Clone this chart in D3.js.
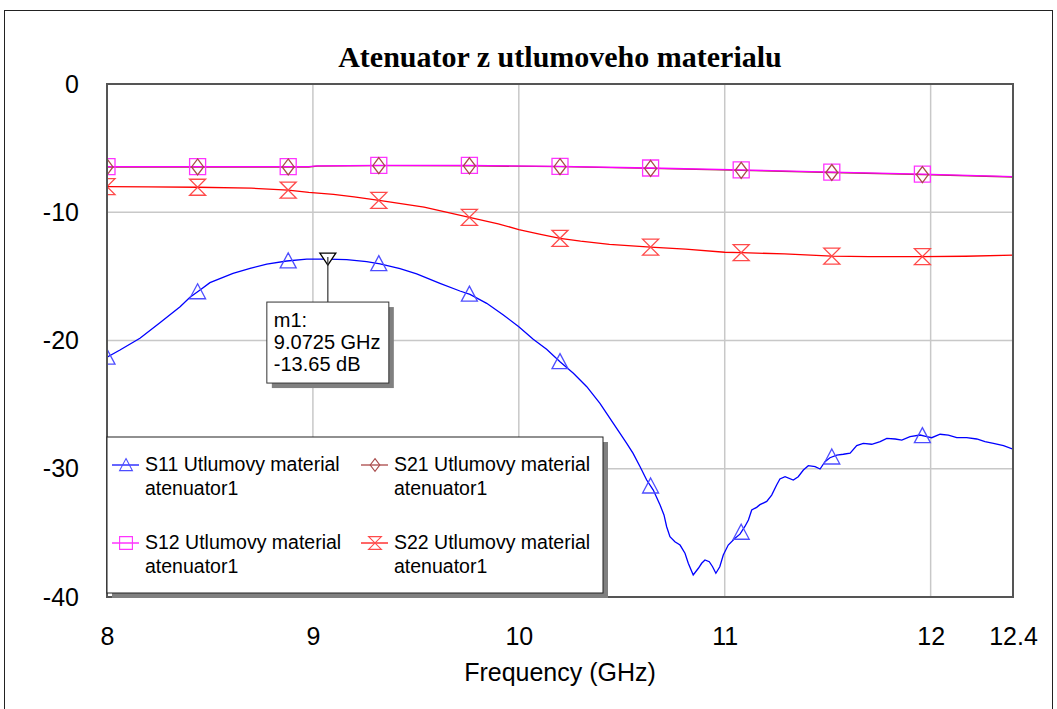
<!DOCTYPE html>
<html><head><meta charset="utf-8">
<script src="https://cdn.jsdelivr.net/npm/d3@7"></script>
<style>
html,body{margin:0;padding:0;background:#fff;}
svg{display:block;}
</style></head>
<body>
<script>
// ---------- DATA ----------
const title = "Atenuator z utlumoveho materialu";
const xLabel = "Frequency (GHz)";
const xTicks = [8, 9, 10, 11, 12, 12.4];
const yTicks = [0, -10, -20, -30, -40];
const xGrid = [9, 10, 11, 12];
const yGrid = [-10, -20, -30];
const markerFreqs = [8.0, 8.44, 8.88, 9.32, 9.76, 10.2, 10.64, 11.08, 11.52, 11.96];

const s11Freq = [8.0,8.063,8.16,8.257,8.355,8.403,8.452,8.50,8.612,8.695,8.776,8.873,8.97,9.0725,9.164,9.261,9.326,9.423,9.504,9.617,9.714,9.763,9.844,9.925,10.0,10.07,10.135,10.2,10.265,10.33,10.394,10.459,10.49,10.524,10.555,10.589,10.621,10.653,10.686,10.705,10.718,10.734,10.758,10.783,10.807,10.823,10.847,10.872,10.888,10.904,10.925,10.941,10.957,10.976,10.993,11.017,11.05,11.074,11.098,11.115,11.131,11.155,11.171,11.204,11.228,11.252,11.268,11.293,11.333,11.357,11.382,11.406,11.439,11.463,11.487,11.511,11.544,11.576,11.609,11.641,11.673,11.714,11.755,11.787,11.828,11.86,11.90,11.949,11.981,12.005,12.046,12.086,12.127,12.175,12.224,12.264,12.305,12.354,12.4];
const s11dB = [-21.3,-20.74,-19.83,-18.61,-17.37,-16.63,-16.06,-15.49,-14.76,-14.37,-14.04,-13.8,-13.66,-13.65,-13.7,-13.85,-14.02,-14.4,-14.8,-15.54,-16.14,-16.4,-17.1,-18.01,-18.92,-19.9,-20.69,-21.65,-22.56,-23.6,-24.9,-26.46,-27.2,-28.02,-28.8,-29.84,-30.88,-31.66,-32.83,-33.6,-34.52,-35.3,-35.69,-35.95,-36.59,-37.37,-38.28,-37.76,-37.37,-37.11,-37.25,-37.64,-38.15,-37.64,-36.73,-35.95,-35.42,-35.1,-34.5,-34.0,-33.22,-33.01,-32.8,-32.55,-32.05,-31.27,-30.8,-30.62,-30.88,-30.62,-30.1,-29.76,-29.84,-30.02,-29.45,-29.14,-28.93,-28.87,-28.79,-28.2,-28.02,-28.09,-27.89,-27.63,-27.68,-27.76,-27.5,-27.37,-27.5,-27.58,-27.31,-27.37,-27.58,-27.58,-27.68,-27.89,-28.02,-28.2,-28.48];

const s12Freq = [8.0,8.5,8.98,9.02,9.32,9.76,10.2,10.64,11.08,11.52,11.96,12.4];
const s12dB  = [-6.45,-6.45,-6.45,-6.38,-6.35,-6.35,-6.42,-6.55,-6.7,-6.87,-7.03,-7.22];
const s21Freq = [8.0,8.5,8.98,9.02,9.32,9.76,10.2,10.64,11.08,11.52,11.96,12.4];
const s21dB  = [-6.47,-6.47,-6.47,-6.41,-6.37,-6.38,-6.45,-6.58,-6.73,-6.9,-7.06,-7.25];

const s22Freq = [8.0,8.2,8.44,8.7,8.88,8.98,9.1,9.2,9.33,9.54,9.76,9.9,10.0,10.1,10.2,10.3,10.44,10.64,10.81,11.0,11.08,11.29,11.52,11.7,11.96,12.17,12.4];
const s22dB  = [-8.0,-8.02,-8.05,-8.12,-8.27,-8.45,-8.6,-8.8,-9.1,-9.6,-10.4,-10.9,-11.35,-11.7,-12.03,-12.25,-12.5,-12.72,-12.88,-13.12,-13.15,-13.25,-13.42,-13.46,-13.46,-13.43,-13.35];

const markerM1 = {name: "m1:", freq: 9.0725, dB: -13.65, label1: "9.0725 GHz", label2: "-13.65 dB"};

const seriesNames = ["S11 Utlumovy material", "S21 Utlumovy material", "S12 Utlumovy material", "S22 Utlumovy material"];
const legendSub = "atenuator1";

// ---------- LAYOUT ----------
const W = 1057, H = 709;
const L = 107, R = 1013, T = 84, B = 597;
const svg = d3.select("body").append("svg").attr("width", W).attr("height", H);
const sans = "'Liberation Sans', Arial, sans-serif";

const x = d3.scaleLinear().domain([8, 12.4]).range([L, R]);
const y = d3.scaleLinear().domain([0, -40]).range([T, B]);

// outer frame
svg.append("rect").attr("x", 4.5).attr("y", 10.5).attr("width", 1048).attr("height", 720)
  .attr("fill", "none").attr("stroke", "#222").attr("stroke-width", 1);

// title
svg.append("text").attr("x", 560).attr("y", 67).attr("text-anchor", "middle")
  .attr("font-family", "'Liberation Serif', 'Times New Roman', serif").attr("font-weight", "bold")
  .attr("font-size", 30).attr("fill", "#000").text(title);

// gridlines
const g = svg.append("g");
g.selectAll(".vg").data(xGrid).enter().append("line")
  .attr("x1", d => x(d)).attr("x2", d => x(d)).attr("y1", T).attr("y2", B)
  .attr("stroke", "#c8c8c8").attr("stroke-width", 1.5);
g.selectAll(".hg").data(yGrid).enter().append("line")
  .attr("x1", L).attr("x2", R).attr("y1", d => y(d)).attr("y2", d => y(d))
  .attr("stroke", "#c8c8c8").attr("stroke-width", 1.5);

// axes labels via d3 axes
const xAxis = svg.append("g").attr("transform", `translate(0,${B})`)
  .call(d3.axisBottom(x).tickValues(xTicks).tickSize(0).tickPadding(30).tickFormat(d => String(d)));
const yAxis = svg.append("g").attr("transform", `translate(${L},0)`)
  .call(d3.axisLeft(y).tickValues(yTicks).tickSize(0).tickPadding(28).tickFormat(d => String(d)));
[xAxis, yAxis].forEach(a => {
  a.select(".domain").remove();
  a.selectAll("text").attr("font-family", sans).attr("font-size", 25).attr("fill", "#000");
});

svg.append("text").attr("x", 560).attr("y", 681).attr("text-anchor", "middle")
  .attr("font-family", sans).attr("font-size", 25).attr("fill", "#000").text(xLabel);

// clip
svg.append("defs").append("clipPath").attr("id", "plotclip")
  .append("rect").attr("x", L).attr("y", T).attr("width", R - L).attr("height", B - T);
const plot = svg.append("g").attr("clip-path", "url(#plotclip)");

const zip = (f, v) => f.map((d, i) => [d, v[i]]);
const line = d3.line().x(d => x(d[0])).y(d => y(d[1]));
function interp(f, v, q) {
  const i = Math.max(1, d3.bisectLeft(f, q));
  const f0 = f[i - 1], f1 = f[i];
  if (f1 === undefined) return v[v.length - 1];
  const t = (q - f0) / (f1 - f0);
  return v[i - 1] + t * (v[i] - v[i - 1]);
}

// marker shapes
const shapes = {
  tri: "M0,-8 L8,7 H-8 Z",
  diamond: "M0,-8 L6,0 L0,8 L-6,0 Z",
  square: "M-8,-8 H8 V8 H-8 Z",
  hour: "M-8,-8 H8 L-8,8 H8 Z"
};

const series = [
  {name: seriesNames[0], f: s11Freq, v: s11dB, color: "#0000ff", mcolor: "#4d4dff", shape: "tri"},
  {name: seriesNames[1], f: s21Freq, v: s21dB, color: "#a33a3a", mcolor: "#a84a4a", shape: "diamond"},
  {name: seriesNames[2], f: s12Freq, v: s12dB, color: "#ff00ff", mcolor: "#ff33ff", shape: "square"},
  {name: seriesNames[3], f: s22Freq, v: s22dB, color: "#ff0000", mcolor: "#ff4a4a", shape: "hour"}
];

series.forEach(s => {
  plot.append("path").datum(zip(s.f, s.v)).attr("d", line)
    .attr("fill", "none").attr("stroke", s.color).attr("stroke-width", 1.3);
});
const drawOrder = [0, 2, 1, 3];
drawOrder.forEach(k => {
  const s = series[k];
  plot.selectAll(null).data(markerFreqs).enter().append("path")
    .attr("d", shapes[s.shape])
    .attr("transform", d => `translate(${x(d)},${y(interp(s.f, s.v, d))})`)
    .attr("fill", "none").attr("stroke", s.mcolor).attr("stroke-width", 1.3);
});

// m1 marker
const mx = x(markerM1.freq), my = y(markerM1.dB);
const boxW = 122, boxH = 81, boxX = mx - 61, boxY = my + 43;
svg.append("rect").attr("x", boxX + 5).attr("y", boxY + 5).attr("width", boxW).attr("height", boxH).attr("fill", "#808080");
svg.append("rect").attr("x", boxX).attr("y", boxY).attr("width", boxW).attr("height", boxH)
  .attr("fill", "#fff").attr("stroke", "#333").attr("stroke-width", 1);
svg.append("path").attr("d", "M-8,-6 H8 L0,6 Z").attr("transform", `translate(${mx},${my})`)
  .attr("fill", "#fff").attr("stroke", "#000").attr("stroke-width", 1.3);
svg.append("line").attr("x1", mx).attr("x2", mx).attr("y1", my - 2).attr("y2", boxY)
  .attr("stroke", "#333").attr("stroke-width", 1.2);
[markerM1.name, markerM1.label1, markerM1.label2].forEach((t, i) => {
  svg.append("text").attr("x", boxX + 7).attr("y", boxY + 25 + i * 22)
    .attr("font-family", sans).attr("font-size", 20).attr("fill", "#000").text(t);
});

// plot border
svg.append("rect").attr("x", L).attr("y", T).attr("width", R - L).attr("height", B - T)
  .attr("fill", "none").attr("stroke", "#555").attr("stroke-width", 2);

// legend
const lgX = L, lgY = 437, lgW = 496, lgH = 156;
svg.append("rect").attr("x", lgX + 5).attr("y", lgY + 5).attr("width", lgW).attr("height", lgH).attr("fill", "#808080");
svg.append("rect").attr("x", lgX).attr("y", lgY).attr("width", lgW).attr("height", lgH)
  .attr("fill", "#fff").attr("stroke", "#222").attr("stroke-width", 1);
const legendPos = [[0, 0], [1, 0], [0, 1], [1, 1]]; // S11, S21, S12, S22
series.forEach((s, i) => {
  const [c, r] = legendPos[i];
  const sx = lgX + 5 + c * 249, sy = lgY + 28 + r * 78;
  const gg = svg.append("g");
  gg.append("line").attr("x1", sx).attr("x2", sx + 27).attr("y1", sy).attr("y2", sy)
    .attr("stroke", s.color).attr("stroke-width", 1.2);
  gg.append("path").attr("d", shapes[s.shape]).attr("transform", `translate(${sx + 14},${sy}) scale(0.8)`)
    .attr("fill", "none").attr("stroke", s.mcolor).attr("stroke-width", 1.4);
  gg.append("text").attr("x", sx + 33).attr("y", sy + 6).attr("font-family", sans).attr("font-size", 19.5)
    .attr("fill", "#000").text(s.name);
  gg.append("text").attr("x", sx + 33).attr("y", sy + 30).attr("font-family", sans).attr("font-size", 19.5)
    .attr("fill", "#000").text(legendSub);
});
</script>
</body></html>
